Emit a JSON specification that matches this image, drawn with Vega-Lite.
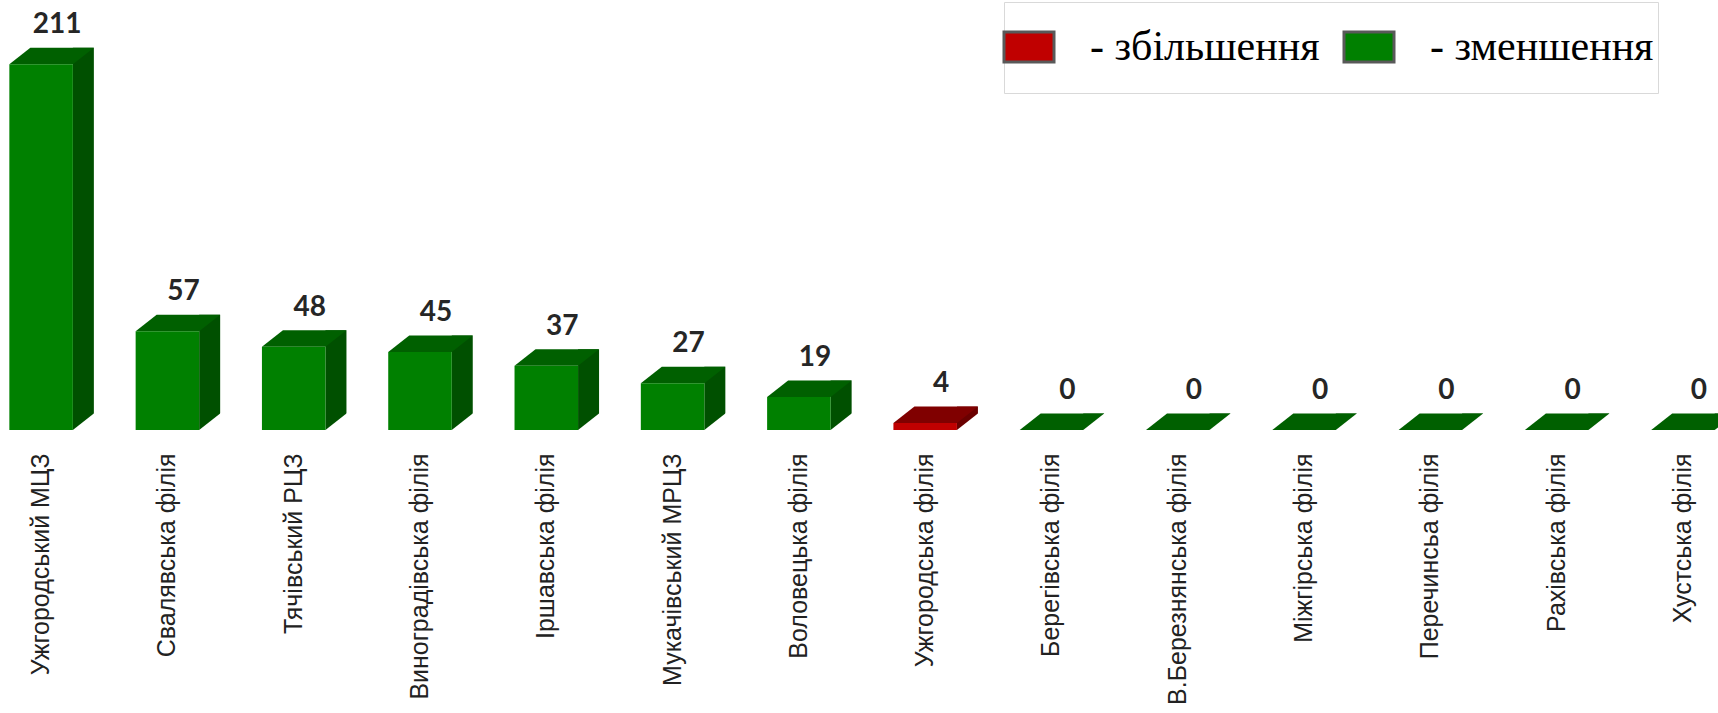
{
  "$schema": "https://vega.github.io/schema/vega-lite/v6.json",
  "width": 1718,
  "height": 430,
  "autosize": {"type": "none"},
  "padding": {"left": 0, "top": 0, "right": 0, "bottom": 283},
  "background": "white",
  "config": {"view": {"stroke": null}},
  "data": {
    "values": [
      {"name": "Ужгородський МЦЗ", "value": 211, "trend": "зменшення"},
      {"name": "Свалявська філія", "value": 57, "trend": "зменшення"},
      {"name": "Тячівський РЦЗ", "value": 48, "trend": "зменшення"},
      {"name": "Виноградівська філія", "value": 45, "trend": "зменшення"},
      {"name": "Іршавська філія", "value": 37, "trend": "зменшення"},
      {"name": "Мукачівський МРЦЗ", "value": 27, "trend": "зменшення"},
      {"name": "Воловецька філія", "value": 19, "trend": "зменшення"},
      {"name": "Ужгородська філія", "value": 4, "trend": "збільшення"},
      {"name": "Берегівська філія", "value": 0, "trend": "зменшення"},
      {"name": "В.Березнянська філія", "value": 0, "trend": "зменшення"},
      {"name": "Міжгірська філія", "value": 0, "trend": "зменшення"},
      {"name": "Перечинсьа філія", "value": 0, "trend": "зменшення"},
      {"name": "Рахівська філія", "value": 0, "trend": "зменшення"},
      {"name": "Хустська філія", "value": 0, "trend": "зменшення"}
    ]
  },
  "encoding": {
    "x": {
      "field": "name",
      "type": "nominal",
      "sort": null,
      "scale": {"paddingInner": 0.497, "paddingOuter": 0.05, "align": 0.74},
      "axis": {
        "title": null,
        "labelAngle": -90,
        "labelFont": "Liberation Sans",
        "labelFontSize": 25,
        "labelColor": "#222222",
        "labelPadding": 23,
        "labelLimit": 0,
        "ticks": false,
        "domain": false,
        "grid": false
      }
    }
  },
  "layer": [
    {
      "mark": {"type": "bar", "width": 21, "xOffset": 42.26, "yOffset": -16.5, "y2Offset": 0},
      "encoding": {
        "y": {"field": "value", "type": "quantitative", "scale": {"domain": [0, 248], "nice": false}, "axis": null},
        "y2": {"datum": 0},
        "fill": {"condition": {"test": "datum.trend === 'збільшення'", "value": "#6a0000"}, "value": "#005000"}
      }
    },
    {
      "mark": {"type": "point", "shape": "M-31.76,0L31.76,0L52.76,-16.5L-10.76,-16.5Z", "size": 4, "filled": true, "opacity": 1, "strokeWidth": 0},
      "encoding": {
        "y": {"field": "value", "type": "quantitative"},
        "fill": {"condition": {"test": "datum.trend === 'збільшення'", "value": "#800000"}, "value": "#006000"}
      }
    },
    {
      "mark": {"type": "point", "shape": "M31.76,0L54,0L54,-17.47Z", "size": 4, "filled": true, "opacity": 1, "strokeWidth": 0, "color": "white"},
      "encoding": {
        "y": {"datum": 0}
      }
    },
    {
      "mark": {"type": "bar"},
      "encoding": {
        "y": {"field": "value", "type": "quantitative"},
        "y2": {"datum": 0},
        "color": {
          "field": "trend",
          "type": "nominal",
          "scale": {"domain": ["збільшення", "зменшення"], "range": ["#C00000", "#008000"]},
          "legend": {
            "orient": "none",
            "legendX": 1004,
            "legendY": 2,
            "direction": "horizontal",
            "title": " ",
            "titleFontSize": 14,
            "titlePadding": 6,
            "symbolType": "M-25,-15H25V15H-25ZM0,36L0,36",
            "symbolSize": 4,
            "symbolStrokeColor": "#595959",
            "symbolStrokeWidth": 3,
            "symbolOpacity": 1,
            "labelFont": "Liberation Serif",
            "labelFontSize": 42,
            "labelColor": "black",
            "labelOffset": 40,
            "columnPadding": 18,
            "padding": 4,
            "strokeColor": "#d9d9d9",
            "fillColor": "white",
            "labelExpr": "datum.label === 'зменшення' ? '- зменшення\u00a0\u00a0' : '- ' + datum.label",
            "labelLimit": 0
          }
        }
      }
    },
    {
      "mark": {"type": "text", "font": "Lato", "fontWeight": "bold", "fontSize": 28, "color": "#262626", "dx": 16, "dy": -31, "baseline": "alphabetic", "align": "center"},
      "encoding": {
        "y": {"field": "value", "type": "quantitative"},
        "text": {"field": "value", "type": "quantitative"}
      }
    }
  ]
}
